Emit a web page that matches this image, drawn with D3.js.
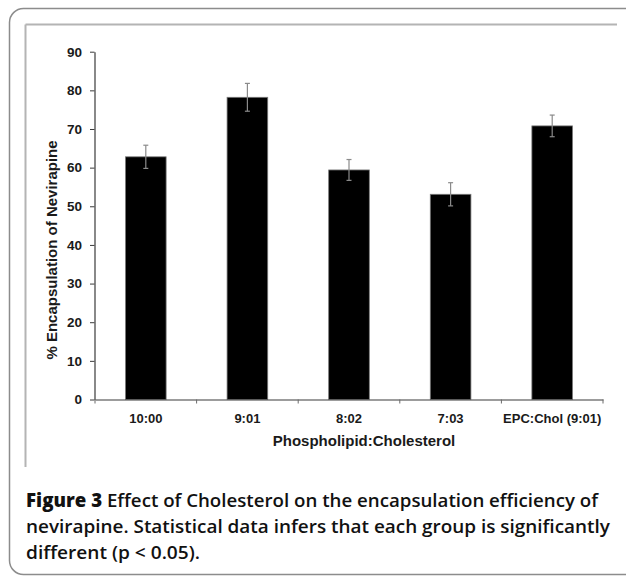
<!DOCTYPE html>
<html>
<head>
<meta charset="utf-8">
<script src="https://cdn.jsdelivr.net/npm/d3@7"></script>
<style>
  html, body { margin: 0; padding: 0; background: #fff; }
  svg { display: block; }
</style>
</head>
<body>
<div id="chart"></div>
<script>
// Dados
const categories = ['10:00', '9:01', '8:02', '7:03', 'EPC:Chol (9:01)'];
const values = [62.8, 78.2, 59.4, 53.1, 70.8];
const errors = [3.0, 3.6, 2.7, 3.0, 2.8];
const yTicks = [0, 10, 20, 30, 40, 50, 60, 70, 80, 90];
const yTitle = '% Encapsulation of Nevirapine';
const xTitle = 'Phospholipid:Cholesterol';
const captionLines = [
    [['Figure 3', true], [' Effect of Cholesterol on the encapsulation efficiency of', false]],
    [['nevirapine. Statistical data infers that each group is significantly', false]],
    [['different (p < 0.05).', false]]
];

const width = 626, height = 577;
const axisFont = '"Liberation Sans", Arial, sans-serif';

const svg = d3.select('#chart')
    .append('svg')
    .attr('width', width)
    .attr('height', height);

// Moldura externa (canto arredondado) e interna
svg.append('rect')
    .attr('x', 9.5).attr('y', 8.5)
    .attr('width', 700).attr('height', 566)
    .attr('rx', 14)
    .attr('fill', 'none')
    .attr('stroke', '#8c8c8c')
    .attr('stroke-width', 1.5);

svg.append('line')
    .attr('x1', 25.5).attr('y1', 24.5).attr('x2', 617).attr('y2', 24.5)
    .attr('stroke', '#b4b4b4').attr('stroke-width', 2);
svg.append('line')
    .attr('x1', 25.5).attr('y1', 24.5).attr('x2', 25.5).attr('y2', 467)
    .attr('stroke', '#b4b4b4').attr('stroke-width', 2);

// Escalas
const x = d3.scaleBand()
    .domain(categories)
    .range([95, 603])
    .paddingInner(0.6)
    .paddingOuter(0.3);

const y = d3.scaleLinear()
    .domain([0, 90])
    .range([399.5, 51.7]);

const g = svg.append('g');

// Barras
g.selectAll('rect.bar')
    .data(categories)
    .enter()
    .append('rect')
    .attr('class', 'bar')
    .attr('x', d => x(d))
    .attr('y', (d, i) => y(values[i]))
    .attr('width', x.bandwidth())
    .attr('height', (d, i) => y(0) - y(values[i]))
    .attr('fill', '#000')
    .attr('stroke', '#7a7a7a')
    .attr('stroke-width', 0.8);

// Barras de erro
const err = g.selectAll('g.err')
    .data(categories)
    .enter()
    .append('g')
    .attr('class', 'err')
    .attr('stroke', '#8a8a8a')
    .attr('stroke-width', 1.2);

err.append('line')
    .attr('x1', d => x(d) + x.bandwidth() / 2)
    .attr('x2', d => x(d) + x.bandwidth() / 2)
    .attr('y1', (d, i) => y(values[i] + errors[i]))
    .attr('y2', (d, i) => y(values[i] - errors[i]));
err.append('line')
    .attr('x1', d => x(d) + x.bandwidth() / 2 - 2.5)
    .attr('x2', d => x(d) + x.bandwidth() / 2 + 2.5)
    .attr('y1', (d, i) => y(values[i] + errors[i]))
    .attr('y2', (d, i) => y(values[i] + errors[i]));
err.append('line')
    .attr('x1', d => x(d) + x.bandwidth() / 2 - 2.5)
    .attr('x2', d => x(d) + x.bandwidth() / 2 + 2.5)
    .attr('y1', (d, i) => y(values[i] - errors[i]))
    .attr('y2', (d, i) => y(values[i] - errors[i]));

// Eixo Y
const yAxis = svg.append('g')
    .attr('transform', 'translate(94.5,0)')
    .call(d3.axisLeft(y).tickValues(yTicks).tickSize(4.5).tickPadding(8).tickSizeOuter(0));
yAxis.select('.domain').attr('stroke', '#3a3a3a').attr('stroke-width', 1.2);
yAxis.selectAll('.tick line').attr('stroke', '#3a3a3a');
yAxis.selectAll('.tick text')
    .attr('font-family', axisFont)
    .attr('font-weight', 'bold')
    .attr('font-size', 13.5)
    .attr('fill', '#1a1a1a');

// Eixo X: rótulos no centro, marcas nas divisas das categorias
const xAxis = svg.append('g')
    .attr('transform', 'translate(0,399.5)')
    .call(d3.axisBottom(x).tickSize(0).tickPadding(14).tickSizeOuter(0));
xAxis.select('.domain').attr('stroke', '#3a3a3a').attr('stroke-width', 1.2);
xAxis.selectAll('.tick text')
    .attr('font-family', axisFont)
    .attr('font-weight', 'bold')
    .attr('font-size', 13)
    .attr('fill', '#1a1a1a');

const step = x.step();
const edges = d3.range(categories.length + 1).map(i => x.range()[0] + i * step);
xAxis.selectAll('line.edge')
    .data(edges)
    .enter()
    .append('line')
    .attr('class', 'edge')
    .attr('x1', d => d).attr('x2', d => d)
    .attr('y1', 0).attr('y2', 4)
    .attr('stroke', '#6a6a6a');

// Títulos dos eixos
svg.append('text')
    .attr('transform', 'translate(57,250) rotate(-90)')
    .attr('text-anchor', 'middle')
    .attr('font-family', axisFont)
    .attr('font-weight', 'bold')
    .attr('font-size', 15)
    .attr('fill', '#1a1a1a')
    .text(yTitle);

svg.append('text')
    .attr('x', 364)
    .attr('y', 446)
    .attr('text-anchor', 'middle')
    .attr('font-family', axisFont)
    .attr('font-weight', 'bold')
    .attr('font-size', 15)
    .attr('fill', '#1a1a1a')
    .text(xTitle);

// Legenda da figura
const captionWidths = [572, 584, 174];
captionLines.forEach((parts, i) => {
    const t = svg.append('text')
        .attr('x', 26)
        .attr('y', 507 + i * 26)
        .attr('font-family', '"Open Sans", "Noto Sans", sans-serif')
        .attr('font-size', 18.5)
        .attr('fill', '#111')
        .attr('textLength', captionWidths[i])
        .attr('lengthAdjust', 'spacingAndGlyphs');
    parts.forEach(([s, bold]) => {
        t.append('tspan')
            .attr('font-weight', bold ? 800 : 600)
            .text(s);
    });
});
</script>
</body>
</html>
